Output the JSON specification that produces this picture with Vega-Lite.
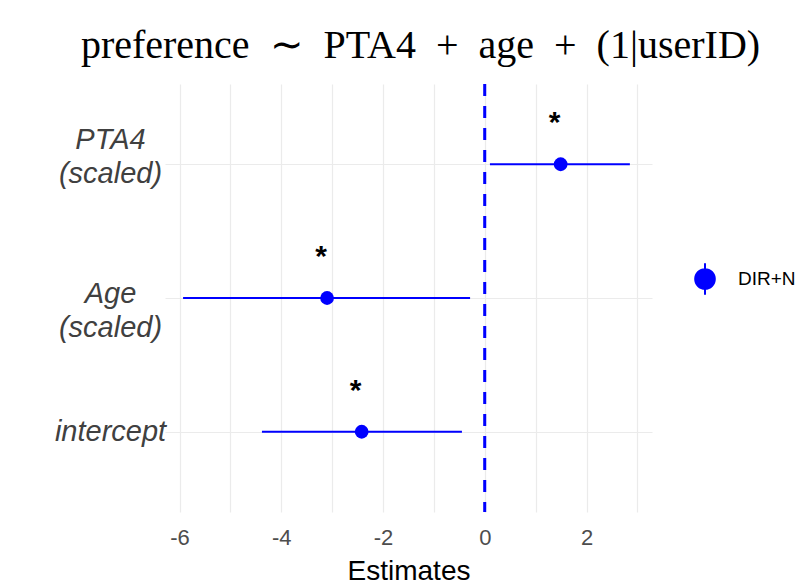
{
  "$schema": "https://vega.github.io/schema/vega-lite/v6.json",
  "width": 487,
  "height": 428,
  "autosize": {"type": "none"},
  "padding": {"left": 165, "top": 84, "right": 151, "bottom": 72},
  "background": "white",
  "title": {
    "text": "preference\u2002∼\u2002PTA4\u2002+\u2002age\u2002+\u2002(1|userID)",
    "font": "Liberation Serif",
    "fontSize": 40,
    "fontWeight": "normal",
    "color": "black",
    "anchor": "middle",
    "dx": 12,
    "offset": 17
  },
  "config": {"view": {"stroke": null}, "font": "Liberation Sans"},
  "data": {
    "values": [
      {"term": "PTA4 (scaled)", "estimate": 1.49, "lower": 0.1, "upper": 2.85, "sig": "*", "model": "DIR+N"},
      {"term": "Age (scaled)", "estimate": -3.1, "lower": -5.93, "upper": -0.29, "sig": "*", "model": "DIR+N"},
      {"term": "intercept", "estimate": -2.42, "lower": -4.38, "upper": -0.45, "sig": "*", "model": "DIR+N"}
    ]
  },
  "layer": [
    {
      "mark": {"type": "rule", "color": "#0000ff", "strokeDash": [12, 10], "strokeWidth": 2.5},
      "encoding": {
        "x": {"datum": 0, "type": "quantitative", "scale": {"domain": [-6.285, 3.285], "nice": false, "zero": false}}
      }
    },
    {
      "mark": {"type": "rule", "color": "#0000ff", "strokeWidth": 2},
      "encoding": {
        "y": {
          "field": "term",
          "type": "nominal",
          "scale": {"type": "point", "domain": ["PTA4 (scaled)", "Age (scaled)", "intercept"], "padding": 0.6},
          "axis": {
            "title": null,
            "grid": true,
            "gridColor": "#ebebeb",
            "gridWidth": 1.2,
            "ticks": false,
            "domain": false,
            "labelFontSize": 29,
            "labelFontStyle": "italic",
            "labelColor": "#404040",
            "labelAlign": "center",
            "labelBaseline": "middle",
            "labelPadding": 55,
            "labelLineHeight": 34,
            "labelOffset": {
              "condition": [
                {"test": "indexof(datum.label, 'PTA4') >= 0", "value": -25},
                {"test": "indexof(datum.label, 'Age') >= 0", "value": -5}
              ],
              "value": 0
            },
            "labelExpr": "split(datum.label, ' ')"
          }
        },
        "x": {
          "field": "lower",
          "type": "quantitative",
          "scale": {"domain": [-6.285, 3.285], "nice": false, "zero": false},
          "axis": {
            "values": [-6, -5, -4, -3, -2, -1, 0, 1, 2, 3],
            "labelExpr": "datum.value % 2 === 0 ? toString(datum.value) : ''",
            "grid": true,
            "gridColor": "#ebebeb",
            "gridWidth": 1.2,
            "ticks": false,
            "domain": false,
            "labelFontSize": 22,
            "labelColor": "#4d4d4d",
            "labelPadding": 15,
            "title": "Estimates",
            "titleFontSize": 28,
            "titleFontWeight": "normal",
            "titleColor": "black",
            "titlePadding": 9
          }
        },
        "x2": {"field": "upper"}
      }
    },
    {
      "mark": {"type": "point", "filled": true, "size": 190, "opacity": 1},
      "encoding": {
        "y": {"field": "term", "type": "nominal"},
        "x": {"field": "estimate", "type": "quantitative"},
        "color": {
          "field": "model",
          "type": "nominal",
          "scale": {"domain": ["DIR+N"], "range": ["#0000ff"]},
          "legend": {
            "orient": "none",
            "legendX": 517,
            "legendY": 172,
            "title": null,
            "symbolType": "M-0.45,0A0.45,0.45 0 1,0 0.45,0A0.45,0.45 0 1,0 -0.45,0ZM0,-0.72V0.72",
            "symbolSize": 1900,
            "symbolStrokeColor": "#0000ff",
            "symbolStrokeWidth": 2,
            "symbolOpacity": 1,
            "labelFontSize": 19,
            "labelColor": "black",
            "labelOffset": 10
          }
        }
      }
    },
    {
      "mark": {"type": "text", "fontSize": 30, "fontWeight": "bold", "dy": -41, "dx": -6, "color": "black"},
      "encoding": {
        "y": {"field": "term", "type": "nominal"},
        "x": {"field": "estimate", "type": "quantitative"},
        "text": {"field": "sig"}
      }
    }
  ]
}
